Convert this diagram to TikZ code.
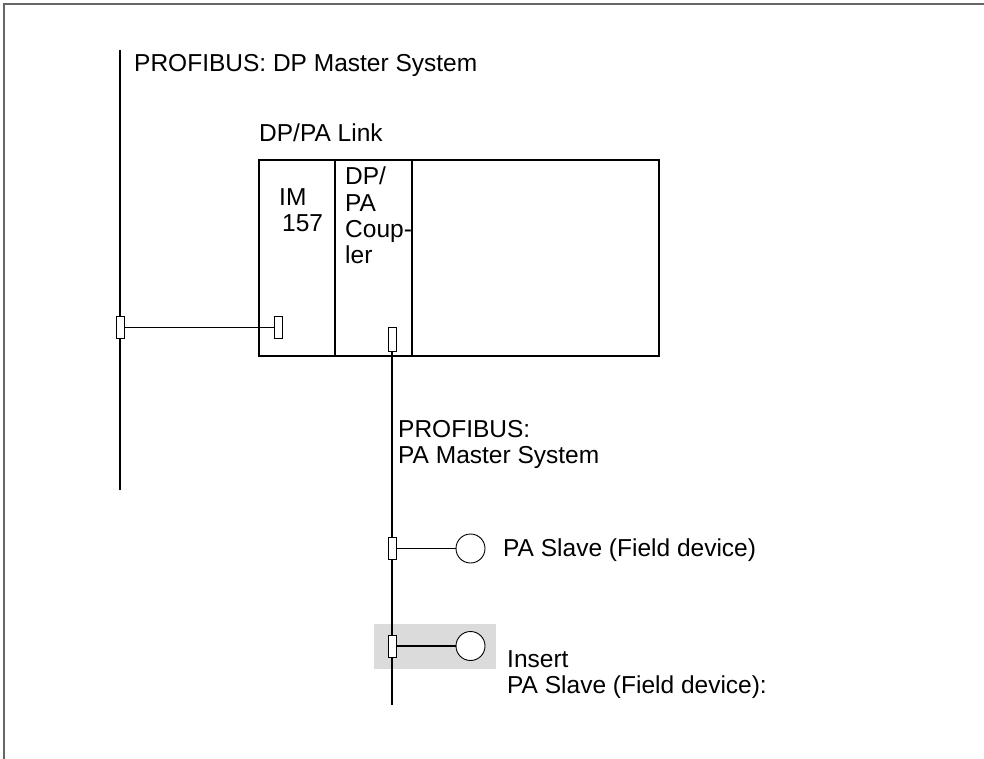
\documentclass[tikz,border=0pt]{standalone}
\usepackage{fontspec}
\setmainfont{Liberation Sans}
\usetikzlibrary{positioning}

\begin{document}
\begin{tikzpicture}[x=1pt,y=-1pt,
    lbl/.style={anchor=base west,inner sep=0pt,align=left,font=\fontsize{24.5}{26}\selectfont},
    port/.style={draw,line width=0.9pt,fill=white,rectangle,minimum width=8pt,minimum height=22pt,inner sep=0pt},
    dev/.style={draw,line width=0.9pt,fill=white,circle,minimum size=29pt,inner sep=0pt},
    slot/.style={draw,line width=1.2pt,rectangle,anchor=north west,inner sep=0pt,outer sep=0pt,minimum height=196pt},
    bus/.style={line width=1.6pt}]
  \useasboundingbox (0,0) rectangle (984,759);

  % frame and highlight
  \draw[black!60,line width=1.5pt] (4,759) -- (4,4) -- (984,4);
  \fill[black!14] (374,624) rectangle (496,669);

  % DP/PA Link (multi-line labels sit on their last baseline)
  \node[slot,minimum width=76pt] (im) at (259,160) {};
  \node[slot,minimum width=77pt] (coupler) at (335,160) {};
  \node[slot,minimum width=247pt] (spare) at (412,160) {};

  \node[lbl] (linklbl) at (259,142) {DP/PA Link};
  \node[lbl] (imlbl) at (279,232) {IM\\\hspace{3pt}157};
  \node[lbl] (cplbl) at (345,263) {DP/\\PA\\Coup-\\ler};

  % DP master system
  \coordinate (dptop) at (120,50);
  \coordinate (dpbot) at (120,490);
  \draw[bus] (dptop) -- (dpbot);
  \node[lbl] (dplbl) at (134,72) {PROFIBUS: DP Master System};
  \node[port] (dpport) at (120,327.5) {};
  \node[port] (import) at (278,327.5) {};
  \draw[line width=1.3pt] (dpport) -- (import);

  % PA master system
  \node[port,minimum height=24pt] (cpport) at (392,339) {};
  \coordinate (pabot) at (392,705);
  \draw[bus] (cpport.south) -- (pabot);
  \node[lbl] (palbl) at (398,463) {PROFIBUS:\\PA Master System};

  \node[port] (tap1) at (392,548.5) {};
  \node[dev] (slave1) at (470.5,548.5) {};
  \draw[line width=1.3pt] (tap1) -- (slave1);
  \node[lbl] (slave1lbl) at (503,556) {PA Slave (Field device)};

  \node[port] (tap2) at (392,646) {};
  \node[dev] (slave2) at (470.5,646) {};
  \draw[line width=1.3pt] (tap2) -- (slave2);
  \node[lbl] (slave2lbl) at (507,693) {Insert\\PA Slave (Field device):};
\end{tikzpicture}
\end{document}
